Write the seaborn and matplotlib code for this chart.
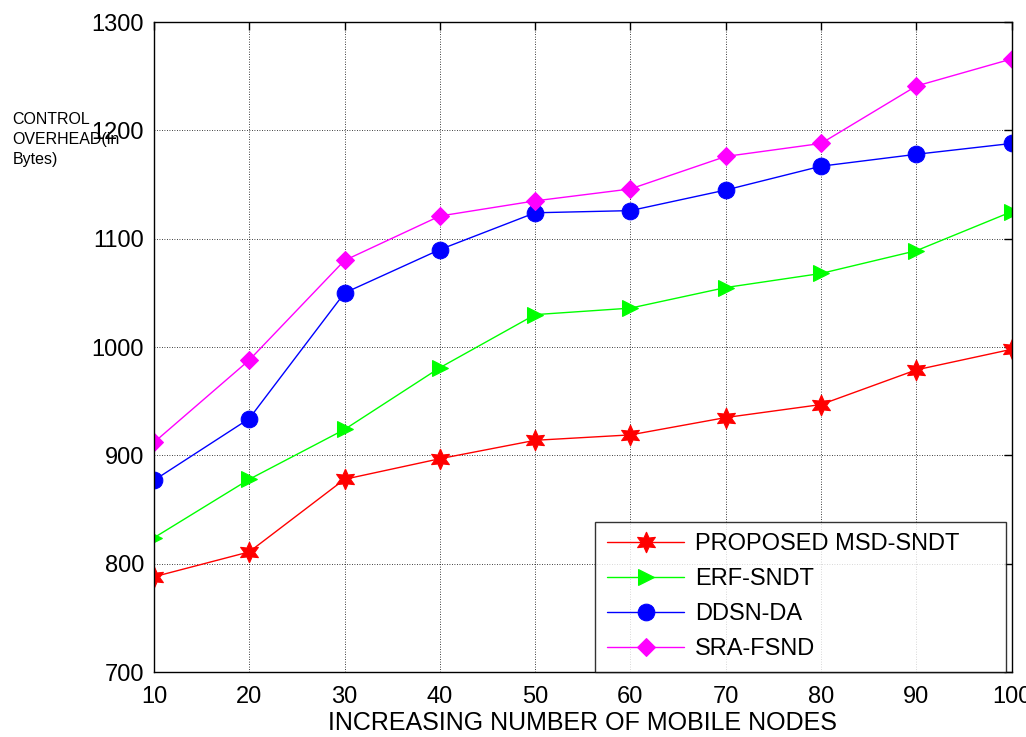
import matplotlib
matplotlib.use("Agg")
import matplotlib.pyplot as plt
import numpy as np
import pandas as pd
import seaborn as sns

# Number of mobile nodes
nodes = [10, 20, 30, 40, 50, 60, 70, 80, 90, 100]

# Control overhead (bytes) per scheme
msd_sndt = [788, 811, 878, 897, 914, 919, 935, 947, 979, 998]
erf_sndt = [824, 878, 924, 981, 1030, 1036, 1055, 1068, 1089, 1125]
ddsn_da = [877, 934, 1050, 1090, 1124, 1126, 1145, 1167, 1178, 1188]
sra_fsnd = [912, 988, 1080, 1121, 1135, 1146, 1176, 1188, 1241, 1266]

series_names = ["PROPOSED MSD-SNDT", "ERF-SNDT", "DDSN-DA", "SRA-FSND"]
series_values = [msd_sndt, erf_sndt, ddsn_da, sra_fsnd]

x_ticks = [10, 20, 30, 40, 50, 60, 70, 80, 90, 100]
y_ticks = [700, 800, 900, 1000, 1100, 1200, 1300]

frames = []
for name, vals in zip(series_names, series_values):
    frames.append(pd.DataFrame({"nodes": nodes, "overhead": vals, "scheme": name}))
df = pd.concat(frames, ignore_index=True)

sns.set_style("white")
plt.rcParams["font.family"] = ["Liberation Sans", "DejaVu Sans"]
plt.rcParams["text.color"] = "black"
plt.rcParams["xtick.color"] = "black"
plt.rcParams["ytick.color"] = "black"
plt.rcParams["axes.labelcolor"] = "black"

colors = {"PROPOSED MSD-SNDT": "#ff0000", "ERF-SNDT": "#00ff00",
          "DDSN-DA": "#0000ff", "SRA-FSND": "#ff00ff"}
markers = {"PROPOSED MSD-SNDT": (6, 1, 0), "ERF-SNDT": ">",
           "DDSN-DA": "o", "SRA-FSND": "D"}
msizes = {"PROPOSED MSD-SNDT": 15, "ERF-SNDT": 12, "DDSN-DA": 12, "SRA-FSND": 9}

fig = plt.figure(figsize=(10.26, 7.37), dpi=100)
ax = fig.add_axes([0.150, 0.088, 0.836, 0.882])

for name in series_names:
    sub = df[df["scheme"] == name]
    sns.lineplot(data=sub, x="nodes", y="overhead", ax=ax, color=colors[name],
                 marker=markers[name], markersize=msizes[name],
                 markeredgecolor=colors[name], markerfacecolor=colors[name],
                 linewidth=1.0, label=name)

ax.set_xlim(10, 100)
ax.set_ylim(700, 1300)
ax.set_xticks(x_ticks)
ax.set_yticks(y_ticks)
ax.tick_params(axis="both", labelsize=17, direction="in", length=6,
               top=True, right=True, width=1, colors="black")
ax.tick_params(axis="y", pad=7)
ax.tick_params(axis="x", pad=10)
ax.grid(True, color="black", linestyle=(0, (1, 2)), linewidth=0.6)
for s in ax.spines.values():
    s.set_color("black")
    s.set_linewidth(1.0)

ax.set_xlabel("INCREASING NUMBER OF MOBILE NODES", fontsize=18, labelpad=2,
              color="black")
ax.set_ylabel("")
fig.text(0.012, 0.848, "CONTROL\nOVERHEAD(in\nBytes)", fontsize=11.5,
         ha="left", va="top", linespacing=1.4, color="black")

# Legend box anchored to the lower-right corner, stretched to a fixed width
leg = ax.legend(loc="lower left", bbox_to_anchor=(0.514, 0.0, 0.479, 0.3),
                mode="expand", borderaxespad=0,
                fontsize=17, frameon=True, fancybox=False, edgecolor="black",
                handlelength=3.3, labelspacing=0.55, borderpad=0.5,
                handletextpad=0.45)
leg.get_frame().set_linewidth(1.0)
for t in leg.get_texts():
    t.set_color("black")

fig.savefig("out.png", dpi=100, facecolor="white")
